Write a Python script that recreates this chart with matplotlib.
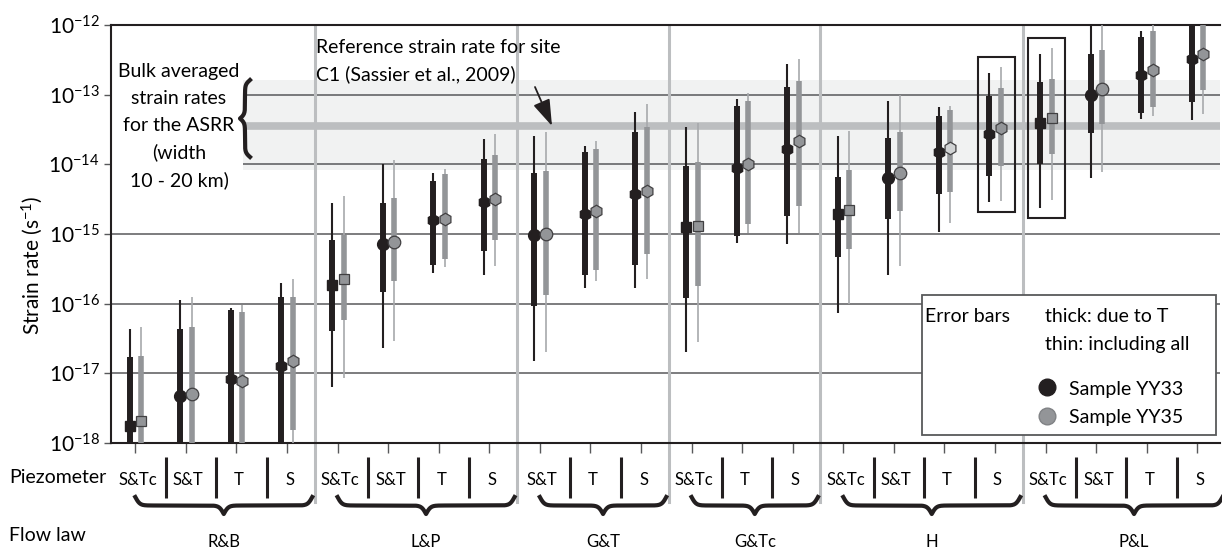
import matplotlib.pyplot as plt
import matplotlib.transforms as mtransforms
from matplotlib.patches import Rectangle
from matplotlib.ticker import NullLocator
import numpy as np

plt.rcParams["font.family"] = ["Lato", "DejaVu Sans"]
plt.rcParams["mathtext.fontset"] = "custom"
plt.rcParams["mathtext.rm"] = "Lato"
plt.rcParams["mathtext.it"] = "Lato:italic"
plt.rcParams["mathtext.bf"] = "Lato:bold"

flow_laws = ["R&B", "L&P", "G&T", "G&Tc", "H", "P&L"]
piezometers = [
    ["S&Tc", "S&T", "T", "S"],
    ["S&Tc", "S&T", "T", "S"],
    ["S&T", "T", "S"],
    ["S&Tc", "T", "S"],
    ["S&Tc", "S&T", "T", "S"],
    ["S&Tc", "S&T", "T", "S"],
]

# log10 of strain rate (s^-1), one value per flow law / piezometer pair
yy33_mid = [-17.76, -17.33, -17.08, -16.90, -15.73, -15.15, -14.80, -14.54,
            -15.02, -14.72, -14.43, -14.90, -14.05, -13.78, -14.71, -14.19,
            -13.83, -13.56, -13.40, -13.00, -12.72, -12.49]
yy33_thick_lo = [-18.6, -18.6, -18.6, -18.6, -16.39, -15.83, -15.44, -15.25,
                 -16.04, -15.59, -15.44, -15.92, -15.03, -14.74, -15.33, -14.79,
                 -14.43, -14.17, -14.00, -13.55, -13.27, -13.10]
yy33_thick_hi = [-16.76, -16.37, -16.09, -15.91, -15.09, -14.56, -14.24, -13.92,
                 -14.13, -13.83, -13.54, -14.02, -13.16, -12.89, -14.18, -13.62,
                 -13.30, -13.02, -12.82, -12.41, -12.17, -11.90]
yy33_thin_lo = [-19.0, -19.0, -19.0, -19.0, -17.20, -16.64, -15.56, -15.59,
                -16.83, -15.78, -15.77, -16.69, -15.13, -15.14, -16.13, -15.59,
                -14.97, -14.54, -14.62, -14.19, -13.35, -13.36]
yy33_thin_hi = [-16.37, -15.95, -16.06, -15.70, -14.55, -14.00, -14.13, -13.64,
                -13.59, -13.73, -13.25, -13.47, -13.06, -12.56, -13.60, -13.09,
                -13.17, -12.69, -12.41, -11.90, -12.08, -11.60]

yy35_mid = [-17.69, -17.30, -17.11, -16.83, -15.65, -15.12, -14.78, -14.50,
            -15.00, -14.67, -14.38, -14.88, -14.00, -13.67, -14.65, -14.12,
            -13.76, -13.48, -13.33, -12.92, -12.65, -12.42]
yy35_thick_lo = [-18.6, -18.6, -18.6, -17.81, -16.23, -15.67, -15.36, -15.08,
                 -15.88, -15.52, -15.28, -15.75, -14.86, -14.60, -15.21, -14.67,
                 -14.39, -14.02, -13.85, -13.42, -13.18, -12.94]
yy35_thick_hi = [-16.75, -16.34, -16.12, -15.91, -15.01, -14.49, -14.14, -13.86,
                 -14.10, -13.78, -13.47, -13.97, -13.09, -12.80, -14.08, -13.54,
                 -13.22, -12.90, -12.78, -12.36, -12.09, -11.90]
yy35_thin_lo = [-19.0, -19.0, -19.0, -19.0, -17.07, -16.53, -15.47, -15.46,
                -16.69, -15.67, -15.64, -16.55, -14.99, -14.98, -16.01, -15.46,
                -14.84, -14.53, -14.51, -14.11, -13.31, -13.28]
yy35_thin_hi = [-16.33, -15.91, -16.02, -15.65, -14.45, -13.94, -14.06, -13.56,
                -13.54, -13.66, -13.14, -13.41, -12.97, -12.49, -13.52, -13.00,
                -13.16, -12.61, -12.33, -11.90, -11.98, -11.60]

ref_rate = 3.5e-14              # site C1, Sassier et al. 2009
bulk_lo, bulk_hi = 8.3e-15, 1.6e-13
highlighted = [17, 18]

markers = {"S&Tc": "s", "S&T": "o", "T": "h", "S": "h"}
black = "#231f20"
gray_thick = "#939598"
gray_thin = "#a7a9ac"
sep_gray = "#bcbec0"
grid_col = "#58595b"

W, H = 1222, 548
fig = plt.figure(figsize=(W / 100, H / 100), dpi=100)
ax = fig.add_axes([111 / W, 1 - 443 / H, 1109 / W, 418 / H])
# top-left pixel coordinates for annotations outside the data
px = mtransforms.Affine2D().scale(0.01, -0.01).translate(0, H / 100) + fig.dpi_scale_trans
xpx = mtransforms.blended_transform_factory(ax.transData, px)

labels = [p for grp in piezometers for p in grp]
n = len(labels)
slots = np.arange(n)

ax.set_yscale("log")
ax.set_ylim(1e-18, 1e-12)
ax.set_xlim(-0.03, 21.9)
ax.set_axisbelow(True)
ax.yaxis.set_minor_locator(NullLocator())
exps = np.arange(-18, -11)
ax.set_yticks(10.0 ** exps)
ax.set_yticklabels([f"$10^{{{k}}}$" for k in exps], fontsize=15)
ax.grid(axis="y", color=grid_col, lw=1.1)
ax.set_xticks(slots + 0.45)
ax.set_xticklabels([])
ax.tick_params(axis="x", length=7, width=1, color=grid_col)
ax.tick_params(axis="y", length=5, width=1, color=grid_col, pad=3)
for s in ["top", "bottom", "left"]:
    ax.spines[s].set_linewidth(1.5)
    ax.spines[s].set_color("#231f20")
ax.spines["right"].set_visible(False)

# bulk strain rate band and reference rate
ax.axhspan(bulk_lo, bulk_hi, xmin=0.119, color="#f1f2f2", zorder=0.1, lw=0)
ax.axhline(ref_rate, xmin=0.119, color=sep_gray, lw=5.5, zorder=0.3)
ax.add_patch(Rectangle((112, 27), 131, 175, transform=px, facecolor="white",
                       edgecolor="none", zorder=0.6))

# group separators
counts = [len(g) for g in piezometers]
bounds = np.concatenate([[0], np.cumsum(counts)])
for b in bounds[1:-1]:
    ax.axvline(b, color=sep_gray, lw=2.2, zorder=0.7)
    ax.plot([b, b], [443, 502], transform=xpx, color=sep_gray, lw=2.2, clip_on=False)

# error bars
for i in slots:
    mk = markers[labels[i]]
    xb, xg = i + 0.34, i + 0.57
    ax.plot([xb, xb], 10.0 ** np.array([yy33_thin_lo[i], yy33_thin_hi[i]]),
            color=black, lw=1.5, solid_capstyle="butt", zorder=3)
    ax.plot([xb, xb], 10.0 ** np.array([yy33_thick_lo[i], yy33_thick_hi[i]]),
            color=black, lw=4.3, solid_capstyle="butt", zorder=3)
    ax.plot(xb, 10.0 ** yy33_mid[i], marker=mk, ms=8.5 if mk != "s" else 7,
            color=black, mec=black, zorder=4)
    ax.plot([xg, xg], 10.0 ** np.array([yy35_thin_lo[i], yy35_thin_hi[i]]),
            color=gray_thin, lw=1.2, solid_capstyle="butt", zorder=3)
    ax.plot([xg, xg], 10.0 ** np.array([yy35_thick_lo[i], yy35_thick_hi[i]]),
            color=gray_thick, lw=4.0, solid_capstyle="butt", zorder=3)
    fill = "#d1d3d4" if i == 16 else gray_thick
    ax.plot(xg, 10.0 ** yy35_mid[i], marker=mk, ms=9 if mk != "s" else 7,
            color=fill, mec="#414042", mew=0.9, zorder=4)

for i in highlighted:
    lo = 10.0 ** (min(yy33_thin_lo[i], yy35_thin_lo[i]) - 0.15)
    hi = 10.0 ** (max(yy33_thin_hi[i], yy35_thin_hi[i]) + 0.15)
    ax.add_patch(Rectangle((i + 0.11, lo), 0.73, hi - lo, fill=False,
                           edgecolor=black, lw=1.5, zorder=4))


def brace_curve(a, b, beta, num=301):
    t = np.linspace(a, b, num)
    half = t[: num // 2 + 1]
    h = (1 / (1 + np.exp(-beta * (half - half[0])))
         + 1 / (1 + np.exp(-beta * (half - half[-1]))))
    return t, np.concatenate([h, h[-2::-1]]) - 0.5


# x-axis annotations: piezometers and flow laws
fig.text(9 / W, 1 - 483 / H, "Piezometer", fontsize=14, va="baseline", ha="left")
fig.text(9 / W, 1 - 541 / H, "Flow law", fontsize=14, va="baseline", ha="left")
for g, law in enumerate(flow_laws):
    s0, s1 = bounds[g], bounds[g + 1]
    for k in range(s0, s1):
        ax.text(k + 0.5, 485, labels[k], transform=xpx, ha="center",
                va="baseline", fontsize=12)
        if k > s0:
            ax.plot([k + 0.05, k + 0.05], [457, 498], transform=xpx, color=black,
                    lw=2.2, clip_on=False, solid_capstyle="butt")
    t, s = brace_curve(s0 + 0.45, s1 - 0.05, 22)
    ax.plot(t, 497 + 17 * s, transform=xpx, color=black, lw=3, clip_on=False)
    ax.text((s0 + 0.45 + s1 - 0.05) / 2, 547, law, transform=xpx, ha="center",
            va="baseline", fontsize=12)

fig.text(32 / W, 1 - 265 / H, "Strain rate (s$^{-1}$)", fontsize=15,
         rotation=90, ha="center", va="center")

# bulk averaged note with brace
bulk_lines = ["Bulk averaged", "strain rates", "for the ASRR", "(width", "10 - 20 km)"]
for k, line in enumerate(bulk_lines):
    ax.text(179, 77 + 27.2 * k, line, transform=px, ha="center", va="baseline",
            fontsize=14, zorder=6)
t, s = brace_curve(80, 157, 0.45)
ax.plot(250 - 10 * s, t, transform=px, color=black, lw=3, clip_on=False, zorder=6)

# reference strain rate annotation
ax.text(316, 53, "Reference strain rate for site", transform=px, fontsize=14,
        va="baseline", ha="left")
ax.text(316, 80, "C1 (Sassier et al., 2009)", transform=px, fontsize=14,
        va="baseline", ha="left")
ax.annotate("", xy=(552, 126), xytext=(535, 87), xycoords=px, textcoords=px,
            arrowprops=dict(arrowstyle="-|>,head_length=0.9,head_width=0.3",
                            color=black, lw=1.3, mutation_scale=18,
                            shrinkA=0, shrinkB=0))

# legend box
ax.add_patch(Rectangle((922, 295), 294, 140, transform=px, facecolor="white",
                       edgecolor=grid_col, lw=1.3, zorder=7, clip_on=False))
ax.text(925, 322, "Error bars", transform=px, fontsize=14, va="baseline", zorder=8)
ax.text(1045, 322, "thick: due to T", transform=px, fontsize=14, va="baseline", zorder=8)
ax.text(1045, 350, "thin: including all", transform=px, fontsize=14, va="baseline", zorder=8)
ax.plot([1047], [387], transform=px, marker="o", ms=12, color=black, zorder=8, clip_on=False)
ax.plot([1047], [416], transform=px, marker="o", ms=12, color=gray_thick,
        mec="#808285", zorder=8, clip_on=False)
ax.text(1069, 395, "Sample YY33", transform=px, fontsize=14, va="baseline", zorder=8)
ax.text(1069, 423, "Sample YY35", transform=px, fontsize=14, va="baseline", zorder=8)

fig.savefig("out.png", dpi=100)
